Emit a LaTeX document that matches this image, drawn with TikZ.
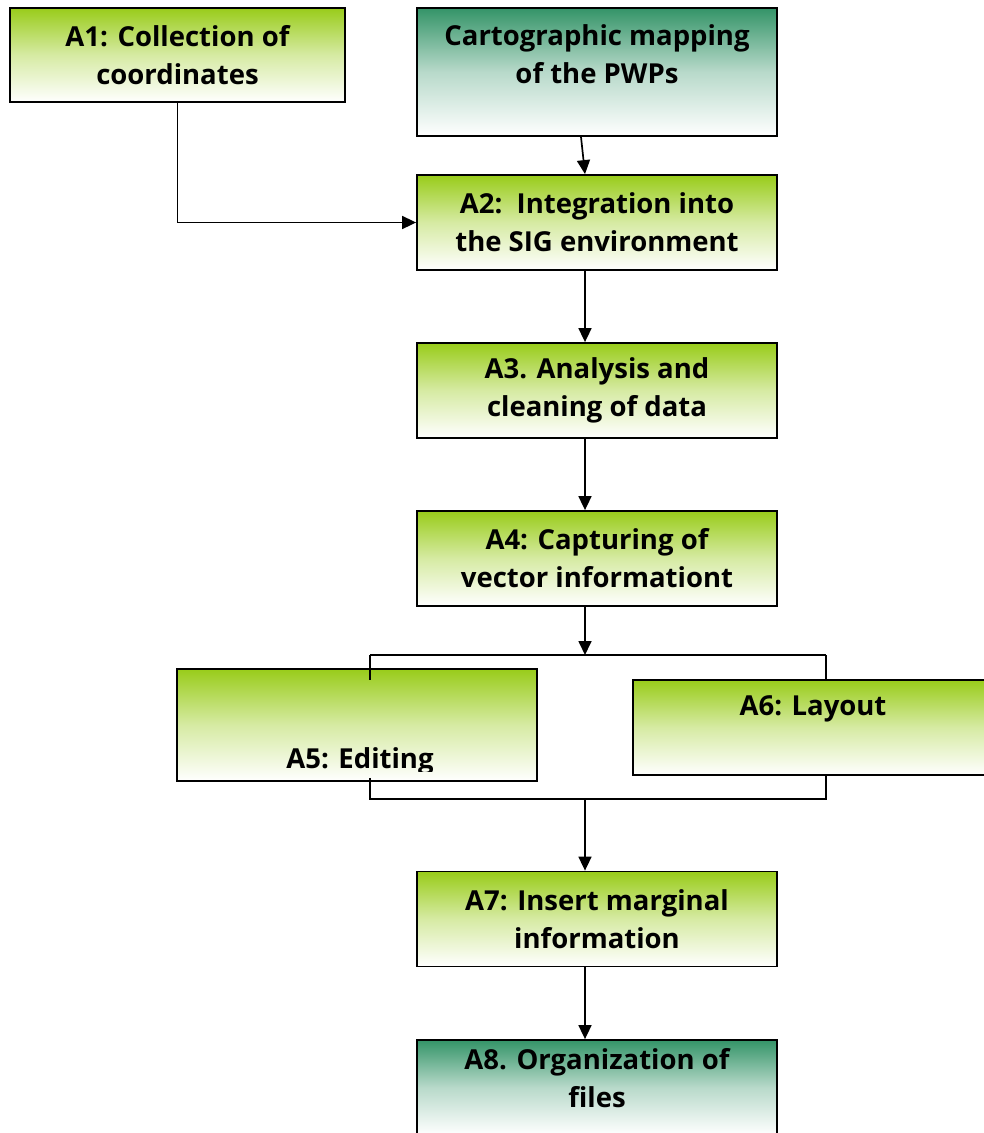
\documentclass[tikz,border=0pt]{standalone}
\usepackage{fontspec}
\setmainfont{Open Sans}
\usetikzlibrary{arrows.meta}
\definecolor{leafgreen}{RGB}{153,204,26}
\definecolor{seagreen}{RGB}{52,148,104}
\tikzset{
  stage/.style={draw,line width=1.8pt,top color=leafgreen,bottom color=white,
    middle color=leafgreen!40!white,minimum width=360pt,minimum height=95pt,
    inner sep=0pt,align=center,font=\fontsize{27.5}{38}\selectfont\bfseries},
  seastage/.style={stage,top color=seagreen,bottom color=white,middle color=seagreen!35!white},
  stagetext/.style={inner sep=0pt,align=center,font=\fontsize{27.5}{38}\selectfont\bfseries},
  flow/.style={line width=1.7pt,-{Triangle[length=14pt,width=13pt]}},
  link/.style={line width=1.7pt}
}
\begin{document}
\begin{tikzpicture}[x=1pt,y=-1pt]
\useasboundingbox (0,0) rectangle (984,1133);
\node[stage,minimum width=335pt,minimum height=94pt] (a1) at (177.5,55) {A1: Collection of\\coordinates};
\node[seastage,minimum height=128pt] (carto) at (597,72) {};
\node[stagetext,anchor=base] (cartotext) at (597,83) {Cartographic mapping\\of the PWPs};
\node[stage] (a2) at (597,222.5) {A2:\ \ Integration into\\the SIG environment};
\node[stage] (a3) at (597,390.5) {A3. Analysis and\\cleaning of data};
\node[stage] (a4) at (597,558.5) {A4: Capturing of\\vector informationt};
\node[stage,minimum height=112pt] (a5) at (357,725) {};
\begin{scope}
\clip (177,669) rectangle (537,771);
\node[stagetext,anchor=base] (a5text) at (360,768) {A5: Editing};
\end{scope}
\node[stage] (a6) at (813,727.5) {};
\node[stagetext,anchor=base] (a6text) at (813,715) {A6: Layout};
\node[stage] (a7) at (597,919) {A7: Insert marginal\\information};
\node[seastage] (a8) at (597,1087.5) {};
\node[stagetext,anchor=base] (a8text) at (597,1107) {A8. Organization of\\files};
\coordinate (split) at (585,655);
\coordinate (splitL) at (370,655);
\coordinate (splitR) at (826,655);
\coordinate (join) at (585,799);
\coordinate (joinL) at (370,799);
\coordinate (joinR) at (826,799);
\draw[flow] (a1.south) |- (a2.west);
\draw[flow] ([xshift=-16pt]carto.south) -- ([xshift=-12pt]a2.north);
\draw[flow] ([xshift=-12pt]a2.south) -- ([xshift=-12pt]a3.north);
\draw[flow] ([xshift=-12pt]a3.south) -- ([xshift=-12pt]a4.north);
\draw[flow] ([xshift=-12pt]a4.south) -- (split);
\draw[link] (splitL) -- (splitR);
\draw[link] (splitL) -- ++(0,25);
\draw[link] (splitR) -- (a6.north -| splitR);
\draw[link] ([yshift=4pt]a5.south -| joinL) -- (joinL) -- (joinR) -- (a6.south -| joinR);
\draw[flow] (join) -- ([xshift=-12pt]a7.north);
\draw[flow] ([xshift=-12pt]a7.south) -- ([xshift=-12pt]a8.north);
\end{tikzpicture}
\end{document}
